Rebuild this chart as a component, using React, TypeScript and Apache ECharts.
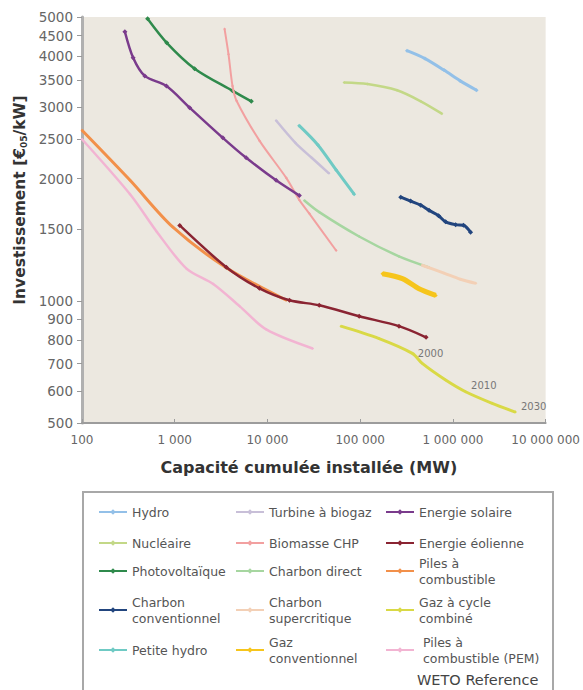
import React, { useEffect, useRef } from "react";
import * as echarts from "echarts";

// ---------- DATA ----------
const xTickValues = [100, 1000, 10000, 100000, 1000000, 10000000];
const yTickValues = [500, 600, 700, 800, 900, 1000, 1500, 2000, 2500, 3000, 3500, 4000, 4500, 5000];

const hydro = [[320000, 4130], [500000, 3950], [800000, 3700], [1200000, 3480], [1800000, 3300]];
const nucleaire = [[67000, 3450], [120000, 3420], [250000, 3300], [450000, 3100], [760000, 2890]];
const photovoltaique = [[510, 4950], [820, 4320], [1640, 3730], [4200, 3290], [6700, 3100]];
const charbonConventionnel = [[274000, 1800], [350000, 1760], [450000, 1720], [552000, 1670], [700000, 1620], [834000, 1565], [1070000, 1540], [1300000, 1535], [1550000, 1476]];
const petiteHydro = [[22000, 2700], [35000, 2420], [55000, 2100], [86000, 1830]];
const turbineBiogaz = [[12400, 2780], [20000, 2450], [30000, 2250], [46000, 2060]];
const biomasseCHP = [[3450, 4670], [3800, 4050], [4200, 3380], [4640, 3110], [8200, 2480], [16000, 2005], [22100, 1770], [28300, 1640], [55000, 1330]];
const charbonDirect = [[25000, 1766], [36200, 1653], [97500, 1440], [262000, 1286], [552000, 1208]];
const charbonSupercritique = [[465000, 1223], [800000, 1170], [1200000, 1130], [1770000, 1104]];
const gazConventionnel = [[174000, 1166], [285000, 1134], [431000, 1071], [652000, 1031]];
const energieSolaire = [[290, 4600], [356, 3970], [476, 3580], [814, 3380], [1450, 2990], [3300, 2520], [5900, 2250], [12400, 1980], [22100, 1816]];
const energieEolienne = [[1133, 1533], [3600, 1210], [8200, 1073], [17300, 1003], [36200, 975], [97500, 916], [262000, 866], [513000, 813]];
const pilesCombustible = [[100, 2630], [330, 1980], [950, 1520], [3530, 1210], [16000, 1003]];
const gazCycleCombine = [[62000, 866], [160000, 807], [365000, 742], [467000, 701], [834000, 638], [1370000, 597], [2650000, 559], [4720000, 532]];
const gazCycleYears = ["", "", "2000", "", "", "2010", "", "2030"];
const pilesPEM = [[100, 2500], [330, 1830], [640, 1480], [1340, 1200], [2600, 1100], [5000, 970], [9700, 850], [30700, 763]];

const seriesNames = [
  "Hydro", "Nucléaire", "Photovoltaïque", "Charbon conventionnel", "Petite hydro",
  "Turbine à biogaz", "Biomasse CHP", "Charbon direct", "Charbon supercritique",
  "Gaz conventionnel", "Energie solaire", "Piles à combustible", "Energie éolienne",
  "Gaz à cycle combiné", "Piles à combustible (PEM)",
];
const seriesData = [
  hydro, nucleaire, photovoltaique, charbonConventionnel, petiteHydro,
  turbineBiogaz, biomasseCHP, charbonDirect, charbonSupercritique,
  gazConventionnel, energieSolaire, pilesCombustible, energieEolienne,
  gazCycleCombine, pilesPEM,
];

// legend labels (with line breaks as in the reference)
const legendLabels: Record<string, string> = {
  "Charbon conventionnel": "Charbon\nconventionnel",
  "Charbon supercritique": "Charbon\nsupercritique",
  "Gaz conventionnel": "Gaz\nconventionnel",
  "Piles à combustible": "Piles à\ncombustible",
  "Gaz à cycle combiné": "Gaz à cycle\ncombiné",
  "Piles à combustible (PEM)": " Piles à\n combustible (PEM)",
};
const legendRows = [
  ["Hydro", "Turbine à biogaz", "Energie solaire"],
  ["Nucléaire", "Biomasse CHP", "Energie éolienne"],
  ["Photovoltaïque", "Charbon direct", "Piles à combustible"],
  ["Charbon conventionnel", "Charbon supercritique", "Gaz à cycle combiné"],
  ["Petite hydro", "Gaz conventionnel", "Piles à combustible (PEM)"],
];

// ---------- STYLES ----------
const FONT = "DejaVu Sans, Liberation Sans, Arial, sans-serif";
const styleMap: Record<string, { color: string; width: number; symbol: string; size: number }> = {
  "Hydro": { color: "#93c0e8", width: 3, symbol: "diamond", size: 4 },
  "Nucléaire": { color: "#c3d887", width: 2.5, symbol: "diamond", size: 3 },
  "Photovoltaïque": { color: "#2f8a4c", width: 2.5, symbol: "diamond", size: 5 },
  "Charbon conventionnel": { color: "#22457e", width: 3, symbol: "diamond", size: 5 },
  "Petite hydro": { color: "#6fcac4", width: 3, symbol: "diamond", size: 4 },
  "Turbine à biogaz": { color: "#c8bfd8", width: 2.5, symbol: "diamond", size: 3 },
  "Biomasse CHP": { color: "#f2a0a0", width: 2, symbol: "diamond", size: 3 },
  "Charbon direct": { color: "#a6d6a0", width: 2.5, symbol: "diamond", size: 3 },
  "Charbon supercritique": { color: "#f3d0b6", width: 3, symbol: "diamond", size: 3 },
  "Gaz conventionnel": { color: "#f6c51c", width: 5, symbol: "diamond", size: 4 },
  "Energie solaire": { color: "#7a3b8c", width: 2.5, symbol: "diamond", size: 5 },
  "Piles à combustible": { color: "#f2904a", width: 3, symbol: "diamond", size: 3 },
  "Energie éolienne": { color: "#8a2432", width: 2.5, symbol: "diamond", size: 5 },
  "Gaz à cycle combiné": { color: "#d9d946", width: 3, symbol: "diamond", size: 3 },
  "Piles à combustible (PEM)": { color: "#f2b4d2", width: 2.5, symbol: "diamond", size: 3 },
};

const legendColLeft = [98, 235, 385];
const legendRowCenter = [512, 543, 571, 610, 650];
const LEGEND_LH = 16;

const fmtSpaces = (v: number) =>
  String(Math.round(v)).replace(/\B(?=(\d{3})+(?!\d))/g, " ");

export default function App() {
  const ref = useRef<HTMLDivElement>(null);

  useEffect(() => {
    if (!ref.current) return;
    const chart = echarts.init(ref.current, undefined, { renderer: "svg" });

    const series: any[] = seriesNames.map((name, i) => {
      const st = styleMap[name];
      const raw = seriesData[i];
      const data =
        name === "Gaz à cycle combiné"
          ? raw.map((p, k) =>
              gazCycleYears[k]
                ? {
                    value: p,
                    label: {
                      show: true,
                      formatter: gazCycleYears[k],
                      position: "right",
                      distance: 4,
                      offset: k === 2 ? [0, 0] : [0, -6],
                      color: "#777",
                      fontSize: 10,
                      fontFamily: FONT,
                    },
                  }
                : { value: p }
            )
          : raw;
      return {
        type: "line",
        name,
        data,
        smooth: 0.3,
        symbol: st.symbol,
        symbolSize: st.size,
        showSymbol: true,
        lineStyle: { color: st.color, width: st.width },
        itemStyle: { color: st.color },
        emphasis: { disabled: true },
        z: 2 + i,
      };
    });

    const legends: any[] = [];
    legendRows.forEach((row, r) => {
      row.forEach((name, c) => {
        const label = legendLabels[name] || name;
        const lines = label.split("\n").length;
        const h = lines * LEGEND_LH;
        legends.push({
          data: [name],
          left: legendColLeft[c],
          top: legendRowCenter[r] - h / 2,
          padding: 0,
          itemWidth: 28,
          itemHeight: 7,
          selectedMode: false,
          formatter: () => label,
          textStyle: {
            fontFamily: FONT,
            fontSize: 12.5,
            color: "#555",
            lineHeight: LEGEND_LH,
          },
        });
      });
    });

    const option: any = {
      animation: false,
      backgroundColor: "#ffffff",
      textStyle: { fontFamily: FONT },
      grid: {
        left: 82,
        right: 35,
        top: 17,
        bottom: 267,
        show: true,
        backgroundColor: "#ece8e0",
        borderWidth: 0,
        containLabel: false,
      },
      xAxis: {
        type: "log",
        logBase: 10,
        min: xTickValues[0],
        max: xTickValues[xTickValues.length - 1],
        name: "Capacité cumulée installée (MW)",
        nameLocation: "middle",
        nameGap: 36,
        nameTextStyle: { fontFamily: FONT, fontWeight: "bold", fontSize: 16, color: "#333", padding: [0, 10, 0, 0] },
        axisLine: { show: true, lineStyle: { color: "#9c9c9c", width: 2 } },
        axisTick: { show: true, inside: true, length: 4, lineStyle: { color: "#9c9c9c" } },
        minorTick: { show: false },
        splitLine: { show: false },
        axisLabel: { fontFamily: FONT, fontSize: 12, color: "#666", margin: 11, formatter: (v: number) => fmtSpaces(v) },
      },
      yAxis: [
        {
          type: "log",
          logBase: 10,
          min: yTickValues[0],
          max: yTickValues[yTickValues.length - 1],
          position: "left",
          name: "Investissement [€{s|05}/kW]",
          nameLocation: "middle",
          nameRotate: 90,
          nameGap: 54,
          nameTextStyle: {
            fontFamily: FONT,
            fontWeight: "bold",
            fontSize: 15.5,
            color: "#333",
            padding: [0, 0, 0, 40],
            rich: { s: { fontFamily: FONT, fontWeight: "bold", fontSize: 9, color: "#333", padding: [7, 0, 0, 0] } },
          },
          axisLine: { show: true, lineStyle: { color: "#b0b0b0", width: 3 } },
          axisTick: { show: false },
          axisLabel: { show: false },
          splitLine: { show: false },
          minorTick: { show: false },
        },
        {
          type: "value",
          min: Math.log10(yTickValues[0]),
          max: Math.log10(yTickValues[yTickValues.length - 1]),
          position: "left",
          axisLine: { show: false },
          axisTick: {
            show: true,
            length: 5,
            customValues: yTickValues.map((v) => Math.log10(v)),
            lineStyle: { color: "#999" },
          },
          axisLabel: {
            show: true,
            margin: 9,
            fontFamily: FONT,
            fontSize: 13.5,
            color: "#666",
            customValues: yTickValues.map((v) => Math.log10(v)),
            formatter: (v: number) => String(Math.round(Math.pow(10, v))),
          },
          splitLine: { show: false },
        },
      ],
      legend: legends,
      series,
      graphic: [
        {
          type: "rect",
          shape: { x: 83, y: 492, width: 470, height: 220 },
          style: { fill: "none", stroke: "#a8a8a8", lineWidth: 2 },
          silent: true,
        },
        {
          type: "text",
          x: 417,
          y: 680,
          style: {
            text: "WETO Reference",
            fontFamily: FONT,
            fontSize: 14.5,
            fill: "#444",
            verticalAlign: "middle",
          },
          silent: true,
        },
      ],
    };

    chart.setOption(option);
    return () => chart.dispose();
  }, []);

  return (
    <div
      ref={ref}
      style={{ position: "absolute", left: 0, top: 0, width: 583, height: 690 }}
    />
  );
}
